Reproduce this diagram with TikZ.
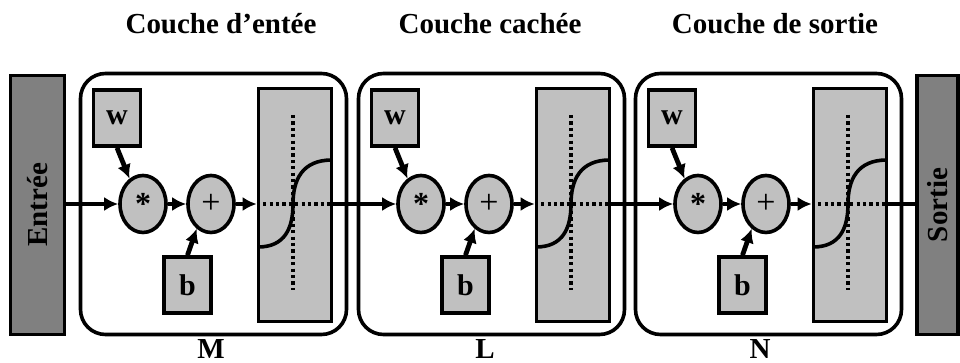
\documentclass[tikz,border=0pt]{standalone}
\usepackage{fontspec}
\setmainfont{Liberation Serif}
\usetikzlibrary{arrows.meta,shapes.geometric}
\definecolor{boxgray}{RGB}{192,192,192}
\definecolor{iogray}{RGB}{128,128,128}

\begin{document}
\begin{tikzpicture}[
    x=0.5pt, y=-0.5pt,
    >={Latex[length=7pt,width=7pt]},
    layer/.style={
        draw,
        line width=1.8pt,
        rounded corners=12.5pt,
        minimum width=133pt,
        minimum height=130.5pt
    },
    param/.style={
        draw,
        line width=1.8pt,
        fill=boxgray,
        minimum width=23.5pt,
        minimum height=28pt,
        inner sep=0pt,
        font=\fontsize{15}{17}\selectfont\bfseries
    },
    op/.style={
        ellipse,
        draw,
        line width=1.8pt,
        fill=boxgray,
        minimum width=23pt,
        minimum height=28.5pt,
        inner sep=0pt
    },
    actbox/.style={
        draw,
        line width=1.8pt,
        fill=boxgray,
        minimum width=36.5pt,
        minimum height=116.5pt
    },
    iobox/.style={
        draw,
        line width=1.8pt,
        fill=iogray,
        minimum width=27pt,
        minimum height=129.5pt
    },
    title/.style={font=\fontsize{14.5}{17}\selectfont\bfseries},
    link/.style={->, line width=2.4pt},
    axis/.style={line width=2pt, dash pattern=on 1.6pt off 1.6pt}
]
\useasboundingbox (0,0) rectangle (960,363);

% entree et sortie
\node[iobox] (in) at (37.5,205) {};
\node[title,rotate=90] (intxt) at (in) {Entrée};
\node[iobox,minimum width=20.5pt] (out) at (937.5,205) {};
\node[title,rotate=90] (outtxt) at (out) {Sortie};

% les trois couches
\foreach \i/\ox/\tx/\lx/\nm/\ttl in {1/80/221/211/M/Couche d’entée,
                                    2/358/490/485/L/Couche cachée,
                                    3/635/775/760/N/Couche de sortie}{
    \node[layer] (lay\i) at (\ox+133.5,204) {};
    \node[title,anchor=base] (ttl\i) at (\tx,34) {\ttl};
    \node[title,anchor=base] (lbl\i) at (\lx,359) {\nm};

    \node[param] (w\i) at (\ox+37,118) {w};
    \node[op,font=\fontsize{16}{17}\selectfont\bfseries] (mul\i) at (\ox+63,204) {*};
    \node[op,font=\fontsize{17}{17}\selectfont] (add\i) at (\ox+131,204) {+};
    \node[param] (b\i) at (\ox+107.5,285) {b};
    \node[actbox] (sig\i) at (\ox+215,205) {};

    \draw[axis] (\ox+213,115) -- (\ox+213,290);
    \draw[axis] (sig\i.west |- mul\i) -- (sig\i.east |- mul\i);
    \draw[line width=1.8pt] (\ox+178,247)
        .. controls (\ox+205,247) and (\ox+213,228) .. (\ox+213,204)
        .. controls (\ox+213,180) and (\ox+222,160) .. (\ox+252,160);

    \draw[link] (w\i.south) -- (mul\i.118);
    \draw[link] (b\i.north) -- (add\i.240);
    \draw[link] (mul\i) -- (add\i);
    \draw[link] (add\i) -- (sig\i.west |- add\i);
}

% liaisons entre couches
\draw[link] (in.east |- mul1) -- (mul1);
\draw[link] (sig1.east |- mul1) -- (mul2);
\draw[link] (sig2.east |- mul2) -- (mul3);
\draw[line width=2.4pt] (sig3.east |- mul3) -- (out.west |- mul3);

\end{tikzpicture}
\end{document}
